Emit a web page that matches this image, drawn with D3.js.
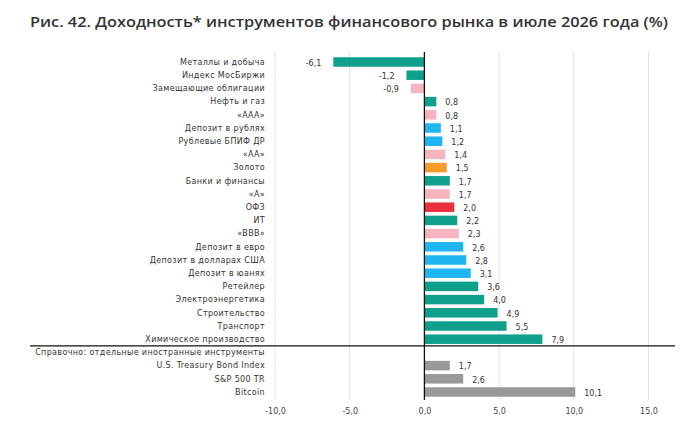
<!DOCTYPE html>
<html><head><meta charset="utf-8">
<script src="https://cdn.jsdelivr.net/npm/d3@7"></script>
<style>body{margin:0;background:#fff}svg{display:block}</style>
</head><body>
<svg id="c" width="700" height="440"></svg>
<script>
const title = "Рис. 42. Доходность* инструментов финансового рынка в июле 2026 года (%)";
const categories = ["Металлы и добыча","Индекс МосБиржи","Замещающие облигации","Нефть и газ","«ААА»","Депозит в рублях","Рублевые БПИФ ДР","«АА»","Золото","Банки и финансы","«А»","ОФЗ","ИТ","«BBB»","Депозит в евро","Депозит в долларах США","Депозит в юанях","Ретейлер","Электроэнергетика","Строительство","Транспорт","Химическое производство","Справочно: отдельные иностранные инструменты","U.S. Treasury Bond Index","S&P 500 TR","Bitcoin"];
const values = [-6.1,-1.2,-0.9,0.8,0.8,1.1,1.2,1.4,1.5,1.7,1.7,2.0,2.2,2.3,2.6,2.8,3.1,3.6,4.0,4.9,5.5,7.9,null,1.7,2.6,10.1];
const groups = ["sector","sector","bond","sector","bond","deposit","deposit","bond","gold","sector","bond","ofz","sector","bond","deposit","deposit","deposit","sector","sector","sector","sector","sector","none","foreign","foreign","foreign"];
const ticks = [-10,-5,0,5,10,15];
const colors = {sector:"#0fa08b",bond:"#f6b4c0",deposit:"#1fb5f0",gold:"#f39c2b",ofz:"#e8313f",foreign:"#999999",none:"none"};

const svg = d3.select("#c");
const fmt = v => d3.format(".1f")(v).replace(".", ",").replace("−","-");
const x = d3.scaleLinear().domain([-10,15]).range([275,648.5]);
const y = d3.scaleBand().domain(d3.range(categories.length)).range([55.4,398.6]).paddingInner(0.28).paddingOuter(0.14);

// title
svg.append("text").attr("x",30).attr("y",27).attr("font-family","Open Sans").attr("font-weight",600)
  .attr("font-size",15).attr("fill","#333").text(title)
  .attr("textLength",638).attr("lengthAdjust","spacingAndGlyphs");

// grid
svg.append("g").selectAll("line").data(ticks.filter(d=>d!==0)).join("line")
  .attr("x1",d=>x(d)).attr("x2",d=>x(d)).attr("y1",52).attr("y2",400)
  .attr("stroke","#e3e3e3").attr("stroke-width",1);

// bars
const data = categories.map((c,i)=>({c,v:values[i],g:groups[i],i}));
svg.append("g").selectAll("rect").data(data.filter(d=>d.v!==null)).join("rect")
  .attr("x",d=>x(Math.min(0,d.v))).attr("width",d=>Math.abs(x(d.v)-x(0)))
  .attr("y",d=>y(d.i)).attr("height",y.bandwidth()).attr("fill",d=>colors[d.g]);

// zero line
svg.append("line").attr("x1",x(0)).attr("x2",x(0)).attr("y1",52).attr("y2",400).attr("stroke","#111").attr("stroke-width",1.3);

// separator
const sepY = (y(21)+y.bandwidth()+y(22))/2;
svg.append("line").attr("x1",30).attr("x2",675).attr("y1",sepY).attr("y2",sepY).attr("stroke","#111").attr("stroke-width",1.3);

// category labels
svg.append("g").selectAll("text").data(data).join("text")
  .attr("x",265).attr("y",d=>y(d.i)+y.bandwidth()/2).attr("dy","0.35em")
  .attr("text-anchor","end").attr("font-family","DejaVu Sans").attr("font-size",8)
  .attr("letter-spacing",0.35)
  .attr("fill","#333").text(d=>d.c);

// value labels
svg.append("g").selectAll("text").data(data.filter(d=>d.v!==null)).join("text")
  .attr("x",d=>d.v<0 ? x(d.v)-12 : x(d.v)+9)
  .attr("y",d=>y(d.i)+y.bandwidth()/2+1).attr("dy","0.35em")
  .attr("text-anchor",d=>d.v<0?"end":"start").attr("font-family","DejaVu Sans").attr("font-size",8)
  .attr("fill","#333").text(d=>fmt(d.v));

// x axis tick labels
const ax = d3.axisBottom(x).tickValues(ticks).tickSize(0).tickFormat(fmt);
const g = svg.append("g").attr("transform","translate(0,405)").call(ax);
g.select(".domain").remove();
g.selectAll("text").attr("font-family","DejaVu Sans").attr("font-size",8).attr("fill","#444");
</script>
</body></html>
